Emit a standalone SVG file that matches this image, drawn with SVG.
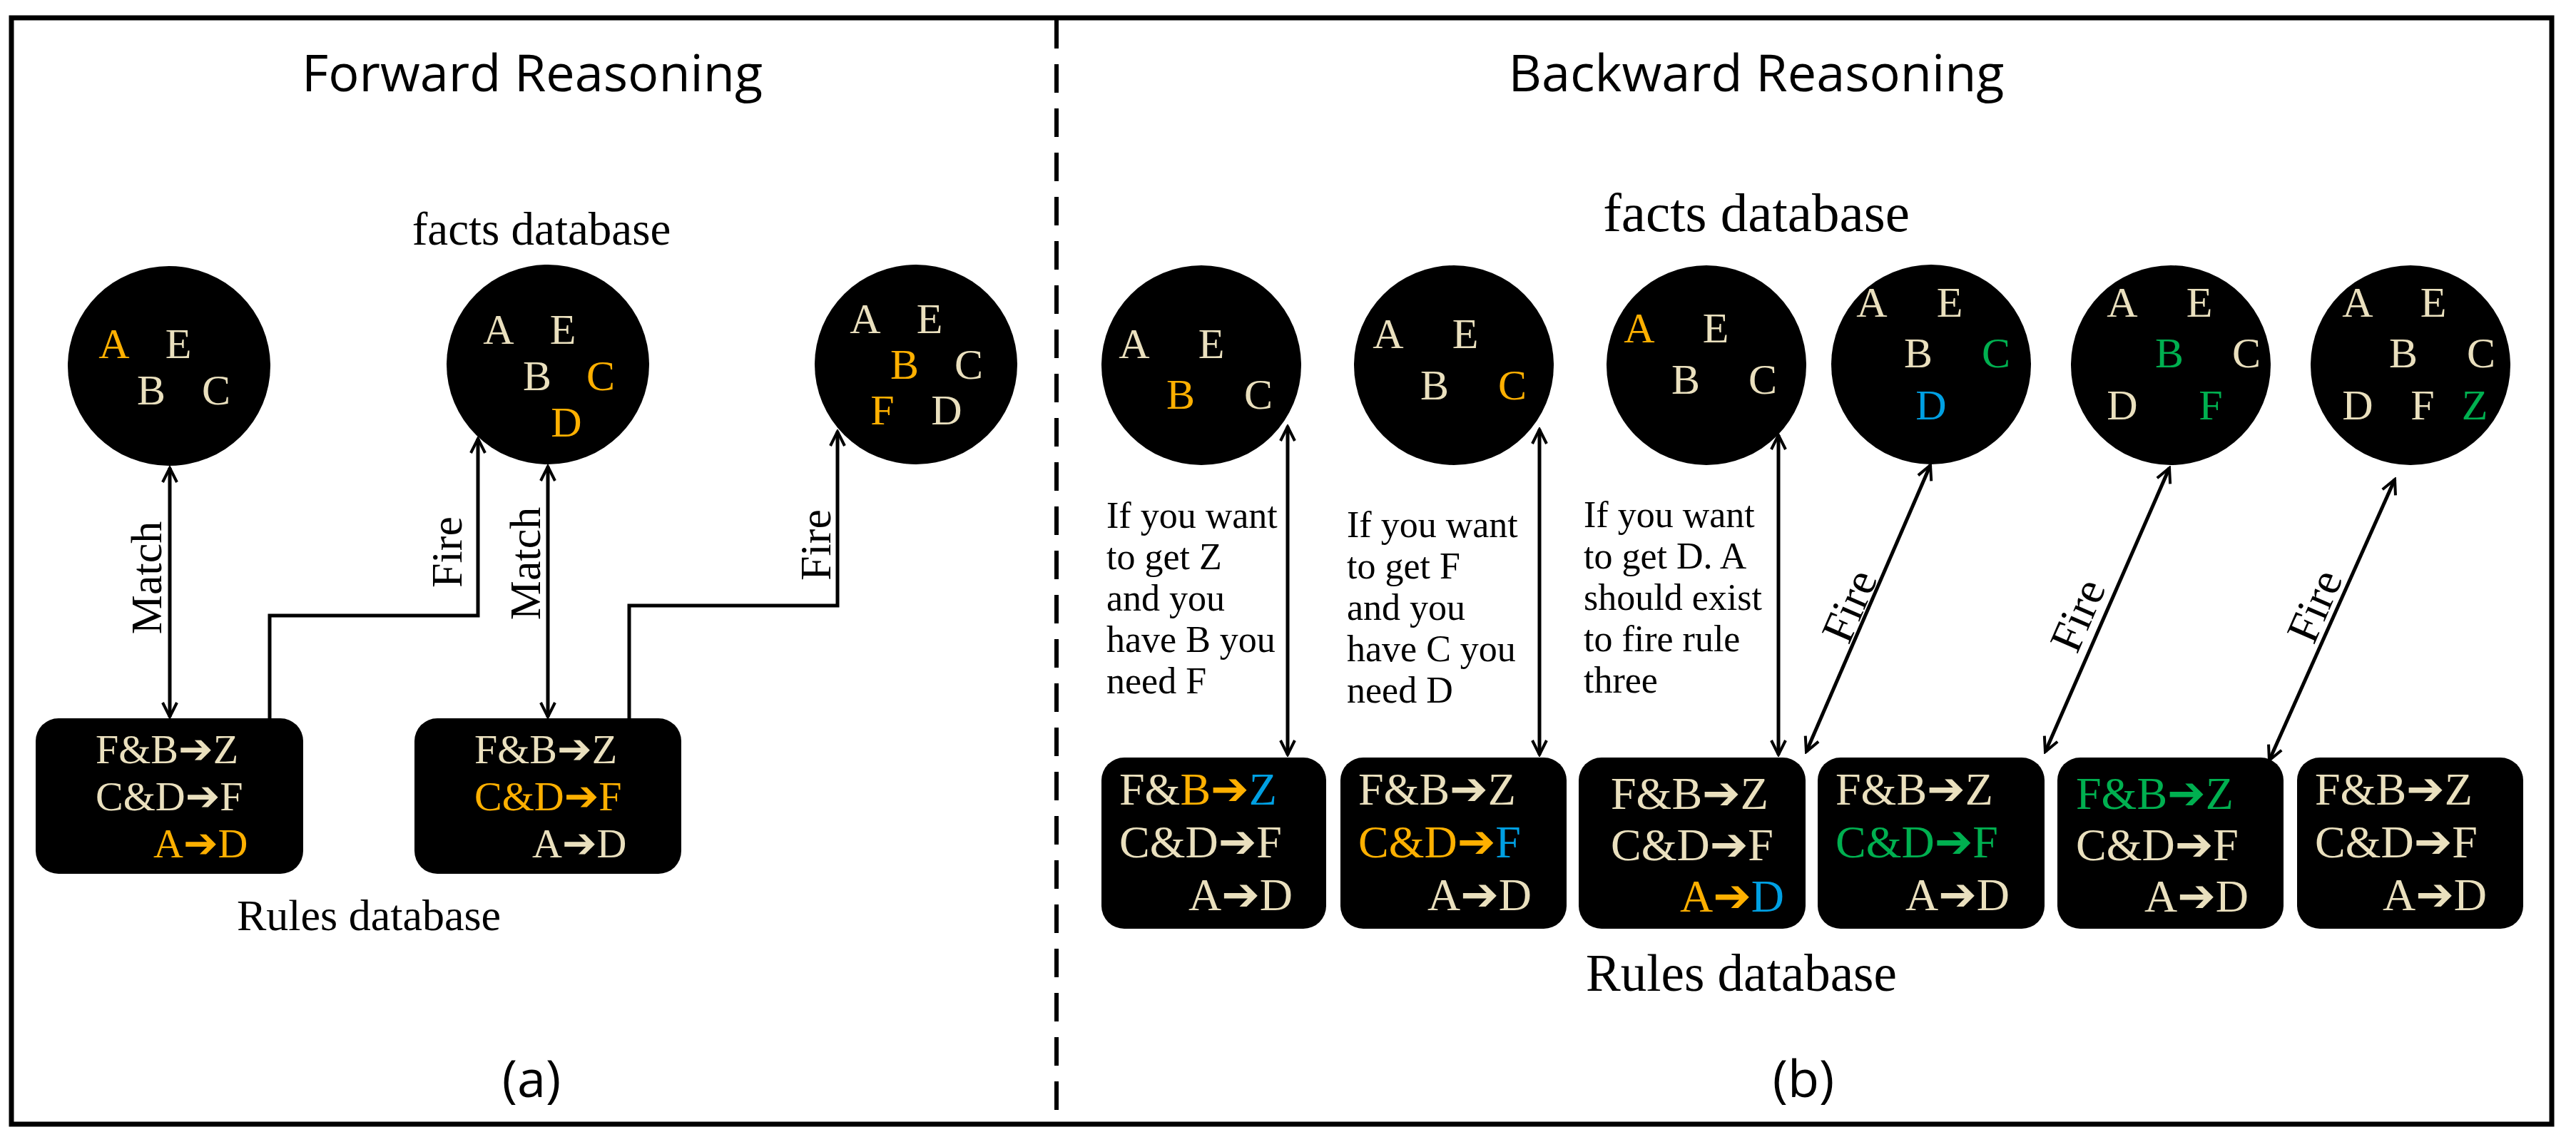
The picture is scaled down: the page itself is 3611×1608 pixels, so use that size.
<svg xmlns="http://www.w3.org/2000/svg" width="3611" height="1608" viewBox="0 0 3611 1608">
<defs>
<marker id="ah" viewBox="0 0 26 26" refX="23" refY="13" markerWidth="26" markerHeight="26" markerUnits="userSpaceOnUse" orient="auto-start-reverse">
<path d="M3,3 L23,13 L3,23" fill="none" stroke="#000" stroke-width="4"/>
</marker>
<style>
.ttl{font-family:"Open Sans","Liberation Sans",sans-serif;font-size:72px;fill:#000;text-anchor:middle}
.lab{font-family:"Liberation Serif",serif;fill:#000}
.fact{fill:#000}
.lt{font-family:"Liberation Serif",serif;font-size:60px;fill:#EAE0BE;text-anchor:middle}
.rb{fill:#000}
.rl{font-family:"Liberation Serif",serif;fill:#EAE0BE}
.ar{font-family:"DejaVu Sans",sans-serif;font-weight:bold}
.o{fill:#FFB000}.b{fill:#00A0E3}.g{fill:#00B050}
.cn{fill:none;stroke:#000;stroke-width:5}
.ann{font-family:"Liberation Serif",serif;font-size:52px;fill:#000}
</style>
</defs>
<rect x="16" y="25" width="3561" height="1551" fill="#fff" stroke="#000" stroke-width="7"/>
<line x1="1481" y1="28" x2="1481" y2="1573" stroke="#000" stroke-width="6" stroke-dasharray="40,22"/>

<text class="ttl" x="746" y="128">Forward Reasoning</text>
<text class="ttl" x="2462" y="128">Backward Reasoning</text>
<text class="lab" x="759" y="343" font-size="65" text-anchor="middle">facts database</text>
<text class="lab" x="2462" y="324" font-size="77" text-anchor="middle">facts database</text>
<text class="lab" x="517" y="1304" font-size="62" text-anchor="middle">Rules database</text>
<text class="lab" x="2441" y="1389" font-size="73" text-anchor="middle">Rules database</text>
<text class="ttl" x="745" y="1538">(a)</text>
<text class="ttl" x="2528" y="1538">(b)</text>

<g id="ff1"><ellipse class="fact" cx="237" cy="513" rx="142" ry="140"/>
<text class="lt o" x="160" y="502">A</text><text class="lt" x="250" y="502">E</text><text class="lt" x="212" y="567">B</text><text class="lt" x="303" y="567">C</text></g>
<g id="ff2"><ellipse class="fact" cx="768" cy="511" rx="142" ry="140"/>
<text class="lt" x="699" y="482">A</text><text class="lt" x="789" y="482">E</text><text class="lt" x="753" y="547">B</text><text class="lt o" x="842" y="547">C</text><text class="lt o" x="794" y="612">D</text></g>
<g id="ff3"><ellipse class="fact" cx="1284" cy="511" rx="142" ry="140"/>
<text class="lt" x="1213" y="467">A</text><text class="lt" x="1303" y="467">E</text><text class="lt o" x="1268" y="531">B</text><text class="lt" x="1358" y="531">C</text><text class="lt o" x="1237" y="595">F</text><text class="lt" x="1327" y="595">D</text></g>

<g id="fr1"><rect class="rb" x="50" y="1007" width="375" height="218" rx="32"/>
<text class="rl" x="134" y="1070" font-size="58">F&amp;B<tspan class="ar">➔</tspan>Z</text>
<text class="rl" x="134" y="1136" font-size="58">C&amp;D<tspan class="ar">➔</tspan>F</text>
<text class="rl o" x="215" y="1202" font-size="58">A<tspan class="ar">➔</tspan>D</text></g>
<g id="fr2"><rect class="rb" x="581" y="1007" width="374" height="218" rx="32"/>
<text class="rl" x="665" y="1070" font-size="58">F&amp;B<tspan class="ar">➔</tspan>Z</text>
<text class="rl o" x="665" y="1136" font-size="58">C&amp;D<tspan class="ar">➔</tspan>F</text>
<text class="rl" x="746" y="1202" font-size="58">A<tspan class="ar">➔</tspan>D</text></g>

<g id="bf1"><ellipse class="fact" cx="1684" cy="512" rx="140" ry="140"/>
<text class="lt" x="1590" y="502">A</text><text class="lt" x="1698" y="502">E</text><text class="lt o" x="1655" y="573">B</text><text class="lt" x="1764" y="573">C</text></g>
<g id="bf2"><ellipse class="fact" cx="2038" cy="512" rx="140" ry="140"/>
<text class="lt" x="1946" y="488">A</text><text class="lt" x="2054" y="488">E</text><text class="lt" x="2011" y="560">B</text><text class="lt o" x="2120" y="560">C</text></g>
<g id="bf3"><ellipse class="fact" cx="2392" cy="512" rx="140" ry="140"/>
<text class="lt o" x="2298" y="480">A</text><text class="lt" x="2405" y="480">E</text><text class="lt" x="2363" y="552">B</text><text class="lt" x="2471" y="552">C</text></g>
<g id="bf4"><ellipse class="fact" cx="2707" cy="511" rx="140" ry="140"/>
<text class="lt" x="2624" y="444">A</text><text class="lt" x="2733" y="444">E</text><text class="lt" x="2689" y="515">B</text><text class="lt g" x="2798" y="515">C</text><text class="lt b" x="2707" y="588">D</text></g>
<g id="bf5"><ellipse class="fact" cx="3043" cy="512" rx="140" ry="140"/>
<text class="lt" x="2975" y="444">A</text><text class="lt" x="3083" y="444">E</text><text class="lt g" x="3041" y="515">B</text><text class="lt" x="3149" y="515">C</text><text class="lt" x="2975" y="588">D</text><text class="lt g" x="3099" y="588">F</text></g>
<g id="bf6"><ellipse class="fact" cx="3379" cy="512" rx="140" ry="140"/>
<text class="lt" x="3305" y="444">A</text><text class="lt" x="3411" y="444">E</text><text class="lt" x="3369" y="515">B</text><text class="lt" x="3478" y="515">C</text><text class="lt" x="3305" y="588">D</text><text class="lt" x="3396" y="588">F</text><text class="lt g" x="3469" y="588">Z</text></g>

<g id="br1"><rect class="rb" x="1544" y="1062" width="315" height="240" rx="32"/>
<text class="rl" x="1569" y="1128" font-size="64">F&amp;<tspan class="o">B<tspan class="ar">➔</tspan></tspan><tspan class="b">Z</tspan></text>
<text class="rl" x="1569" y="1202" font-size="64">C&amp;D<tspan class="ar">➔</tspan>F</text>
<text class="rl" x="1666" y="1276" font-size="64">A<tspan class="ar">➔</tspan>D</text></g>
<g id="br2"><rect class="rb" x="1879" y="1062" width="317" height="240" rx="32"/>
<text class="rl" x="1904" y="1128" font-size="64">F&amp;B<tspan class="ar">➔</tspan>Z</text>
<text class="rl" x="1904" y="1202" font-size="64"><tspan class="o">C&amp;D<tspan class="ar">➔</tspan></tspan><tspan class="b">F</tspan></text>
<text class="rl" x="2001" y="1276" font-size="64">A<tspan class="ar">➔</tspan>D</text></g>
<g id="br3"><rect class="rb" x="2213" y="1062" width="318" height="240" rx="32"/>
<text class="rl" x="2258" y="1134" font-size="64">F&amp;B<tspan class="ar">➔</tspan>Z</text>
<text class="rl" x="2258" y="1206" font-size="64">C&amp;D<tspan class="ar">➔</tspan>F</text>
<text class="rl" x="2355" y="1278" font-size="64"><tspan class="o">A<tspan class="ar">➔</tspan></tspan><tspan class="b">D</tspan></text></g>
<g id="br4"><rect class="rb" x="2548" y="1062" width="318" height="240" rx="32"/>
<text class="rl" x="2573" y="1128" font-size="64">F&amp;B<tspan class="ar">➔</tspan>Z</text>
<text class="rl g" x="2573" y="1202" font-size="64">C&amp;D<tspan class="ar">➔</tspan>F</text>
<text class="rl" x="2671" y="1276" font-size="64">A<tspan class="ar">➔</tspan>D</text></g>
<g id="br5"><rect class="rb" x="2884" y="1062" width="317" height="240" rx="32"/>
<text class="rl g" x="2910" y="1134" font-size="64">F&amp;B<tspan class="ar">➔</tspan>Z</text>
<text class="rl" x="2910" y="1206" font-size="64">C&amp;D<tspan class="ar">➔</tspan>F</text>
<text class="rl" x="3006" y="1278" font-size="64">A<tspan class="ar">➔</tspan>D</text></g>
<g id="br6"><rect class="rb" x="3220" y="1062" width="317" height="240" rx="32"/>
<text class="rl" x="3245" y="1128" font-size="64">F&amp;B<tspan class="ar">➔</tspan>Z</text>
<text class="rl" x="3245" y="1202" font-size="64">C&amp;D<tspan class="ar">➔</tspan>F</text>
<text class="rl" x="3340" y="1276" font-size="64">A<tspan class="ar">➔</tspan>D</text></g>

<g id="ann1"><text class="ann" x="1551" y="740">If you want</text><text class="ann" x="1551" y="798">to get Z</text><text class="ann" x="1551" y="856">and you</text><text class="ann" x="1551" y="914">have B you</text><text class="ann" x="1551" y="972">need F</text></g>
<g id="ann2"><text class="ann" x="1888" y="753">If you want</text><text class="ann" x="1888" y="811">to get F</text><text class="ann" x="1888" y="869">and you</text><text class="ann" x="1888" y="927">have C you</text><text class="ann" x="1888" y="985">need D</text></g>
<g id="ann3"><text class="ann" x="2220" y="739">If you want</text><text class="ann" x="2220" y="797">to get D. A</text><text class="ann" x="2220" y="855">should exist</text><text class="ann" x="2220" y="913">to fire rule</text><text class="ann" x="2220" y="971">three</text></g>

<g id="connectors">
<line class="cn" x1="238" y1="656" x2="238" y2="1005" marker-start="url(#ah)" marker-end="url(#ah)"/>
<polyline class="cn" points="378,1007 378,863 670,863 670,615" marker-end="url(#ah)"/>
<line class="cn" x1="768" y1="654" x2="768" y2="1005" marker-start="url(#ah)" marker-end="url(#ah)"/>
<polyline class="cn" points="882,1007 882,849 1174,849 1174,605" marker-end="url(#ah)"/>
<text class="lab" font-size="62" text-anchor="middle" transform="translate(226,810) rotate(-90)">Match</text>
<text class="lab" font-size="62" text-anchor="middle" transform="translate(647,774) rotate(-90)">Fire</text>
<text class="lab" font-size="62" text-anchor="middle" transform="translate(757,790) rotate(-90)">Match</text>
<text class="lab" font-size="62" text-anchor="middle" transform="translate(1164,764) rotate(-90)">Fire</text>

<line class="cn" x1="1805" y1="598" x2="1805" y2="1058" marker-start="url(#ah)" marker-end="url(#ah)"/>
<line class="cn" x1="2158" y1="602" x2="2158" y2="1058" marker-start="url(#ah)" marker-end="url(#ah)"/>
<line class="cn" x1="2493" y1="610" x2="2493" y2="1058" marker-start="url(#ah)" marker-end="url(#ah)"/>
<line class="cn" x1="2532" y1="1054" x2="2706" y2="652" marker-start="url(#ah)" marker-end="url(#ah)"/>
<line class="cn" x1="2867" y1="1054" x2="3041" y2="656" marker-start="url(#ah)" marker-end="url(#ah)"/>
<line class="cn" x1="3181" y1="1066" x2="3357" y2="672" marker-start="url(#ah)" marker-end="url(#ah)"/>
<text class="lab" font-size="64" text-anchor="middle" transform="translate(2612,858) rotate(-66.6)">Fire</text>
<text class="lab" font-size="64" text-anchor="middle" transform="translate(2932,871) rotate(-66.6)">Fire</text>
<text class="lab" font-size="64" text-anchor="middle" transform="translate(3264,858) rotate(-66.6)">Fire</text>
</g>
</svg>
